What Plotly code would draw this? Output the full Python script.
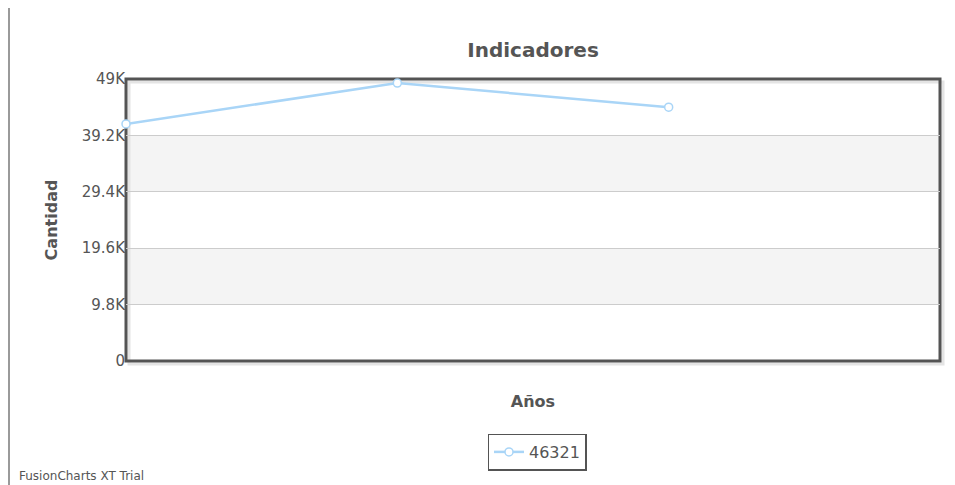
import plotly.graph_objects as go

categories = ["1", "2", "3", "4"]
values = [41200, 48300, 44100, None]
series_name = "46321"
tick_vals = [0, 9800, 19600, 29400, 39200, 49000]
tick_text = ["0", "9.8K", "19.6K", "29.4K", "39.2K", "49K"]

# page body has an 8px margin; work in figure coordinates
OFF = 8
W, H = 955 - OFF, 485 - OFF
L, R, T, B = 126 - OFF, 15, 79 - OFF, 124
pw = W - L - R
ph = H - T - B

def px_x(x):  # reference pixel x -> paper x
    return (x - OFF - L) / pw

def px_y(y):  # reference pixel y -> paper y
    return 1 - (y - OFF - T) / ph

fig = go.Figure()
fig.add_trace(go.Scatter(
    x=categories, y=values, name=series_name, mode="lines+markers",
    line=dict(color="#a9d5f7", width=2.5),
    marker=dict(symbol="circle", size=8, color="white",
                line=dict(color="#a9d5f7", width=1.5)),
    showlegend=True, cliponaxis=False,
))

shapes = []
for i in range(len(tick_vals) - 1):
    if i % 2 == 1:
        shapes.append(dict(type="rect", xref="paper", yref="y", x0=0, x1=1,
                           y0=tick_vals[i], y1=tick_vals[i + 1],
                           fillcolor="#f4f4f4", line=dict(width=0), layer="below"))
shapes.append(dict(type="rect", xref="paper", yref="paper",
                   x0=0 + 3 / pw, x1=1 + 3 / pw, y0=0 - 3 / ph, y1=1 - 3 / ph,
                   line=dict(color="#e4e4e4", width=3), layer="below"))
shapes.append(dict(type="rect", xref="paper", yref="paper", x0=0, x1=1, y0=0, y1=1,
                   line=dict(color="#545454", width=3), layer="between"))
shapes.append(dict(type="line", xref="paper", yref="paper",
                   x0=px_x(9), x1=px_x(9), y0=px_y(485), y1=px_y(0),
                   line=dict(color="#9a9a9a", width=2)))

fig.update_layout(
    width=W, height=H,
    margin=dict(l=L, r=R, t=T, b=B, autoexpand=False),
    paper_bgcolor="white", plot_bgcolor="white",
    font=dict(family="DejaVu Sans", color="#555555", size=15),
    title=dict(text="<b>Indicadores</b>", x=(L + pw / 2) / W, xanchor="center",
               y=1 - (50 - OFF) / H, yanchor="middle",
               font=dict(size=20, color="#555555", family="DejaVu Sans")),
    xaxis=dict(type="category", range=[0, 3], showticklabels=False, showgrid=False,
               zeroline=False, ticks="", automargin=False,
               title=dict(text="<b>Años</b>", font=dict(size=16, color="#555555"), standoff=34)),
    yaxis=dict(range=[0, 49000], tickvals=tick_vals, ticktext=tick_text,
               showgrid=True, gridcolor="#cccccc", gridwidth=1, zeroline=False,
               tickfont=dict(size=15, color="#555555"), ticks="", ticklen=0, automargin=False,
               title=dict(text="<b>Cantidad</b>", font=dict(size=16, color="#555555"), standoff=20)),
    legend=dict(orientation="h", x=px_x(537), xanchor="center", y=px_y(452), yanchor="middle",
                bordercolor="#545454", borderwidth=1.5, bgcolor="white", itemwidth=30,
                font=dict(size=16, color="#555555")),
    shapes=shapes,
    annotations=[dict(text="FusionCharts XT Trial", xref="paper", yref="paper",
                      x=px_x(17), y=px_y(476), xanchor="left", yanchor="middle",
                      showarrow=False, font=dict(size=12, color="#555555"))],
)

fig.write_html("out.html")
